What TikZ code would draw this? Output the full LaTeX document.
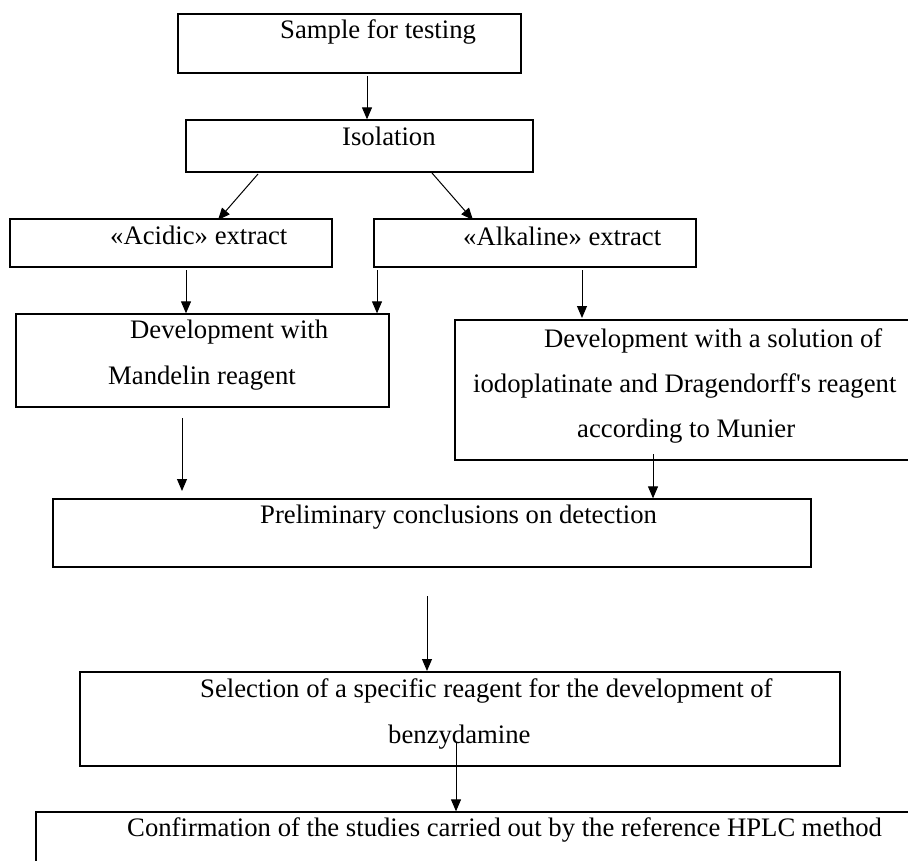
\documentclass[tikz,border=0pt]{standalone}
\usepackage{fontspec}
\setmainfont{Liberation Serif}[Ligatures=TeXOff]
\usetikzlibrary{arrows.meta}
\begin{document}
\begin{tikzpicture}[x=1pt,y=-1pt,
  boxline/.style={draw=black,line width=1.3pt},
  arr/.style={draw=black,line width=1pt,-{Triangle[length=12pt,width=10pt]}},
  txt/.style={anchor=base west,inner sep=0pt,font=\fontsize{26.7}{32}\selectfont}]
\clip (0,0) rectangle (908,860);
\fill[white] (0,0) rectangle (908,860);
% boxes
\node[boxline,inner sep=0pt,minimum width=343pt,minimum height=59pt] (sample) at (349.5,43.5) {};
\node[boxline,inner sep=0pt,minimum width=347pt,minimum height=52pt] (iso) at (359.5,146) {};
\node[boxline,inner sep=0pt,minimum width=322pt,minimum height=48pt] (acid) at (171,243) {};
\node[boxline,inner sep=0pt,minimum width=322pt,minimum height=48pt] (alk) at (535,243) {};
\node[boxline,inner sep=0pt,minimum width=373pt,minimum height=93pt] (mand) at (202.5,360.5) {};
\node[boxline,inner sep=0pt,minimum width=465pt,minimum height=140pt] (drag) at (687.5,390) {};
\node[boxline,inner sep=0pt,minimum width=758pt,minimum height=68pt] (prelim) at (432,533) {};
\node[boxline,inner sep=0pt,minimum width=760pt,minimum height=94pt] (sel) at (460,719) {};
\node[boxline,inner sep=0pt,minimum width=884pt,minimum height=68pt] (conf) at (478,846) {};
% texts
\node[txt] (tsample) at (280,38) {Sample for testing};
\node[txt] (tiso) at (342,145) {Isolation};
\node[txt] (tacid) at (110,244) {«Acidic» extract};
\node[txt] (talk) at (463,245) {«Alkaline» extract};
\node[txt] (tmand1) at (130,338) {Development with};
\node[txt] (tmand2) at (108,384) {Mandelin reagent};
\node[txt] (tdrag1) at (544,347) {Development with a solution of};
\node[txt] (tdrag2) at (473,392) {iodoplatinate and Dragendorff's reagent};
\node[txt] (tdrag3) at (577,437) {according to Munier};
\node[txt] (tprelim) at (260,523) {Preliminary conclusions on detection};
\node[txt] (tsel1) at (200,697) {Selection of a specific reagent for the development of};
\node[txt] (tsel2) at (388,743) {benzydamine};
\node[txt] (tconf) at (127,836) {Confirmation of the studies carried out by the reference HPLC method};
% connector end points
\coordinate (s1) at (367,76);
\coordinate (s2) at (258,174);
\coordinate (e2) at (218,220);
\coordinate (s3) at (432,173);
\coordinate (e3) at (473,220);
\coordinate (s4) at (186,270);
\coordinate (s5) at (377,270);
\coordinate (s6) at (582,270);
\coordinate (e6) at (582,318);
\coordinate (s7) at (182,418);
\coordinate (e7) at (182,491);
\coordinate (s8) at (653,454);
\coordinate (s9) at (427,596);
\coordinate (e9) at (427,671);
\coordinate (s10) at (456,743);
% connectors
\draw[arr] (s1) -- (s1 |- iso.north);
\draw[arr] (s2) -- (e2);
\draw[arr] (s3) -- (e3);
\draw[arr] (s4) -- (s4 |- mand.north);
\draw[arr] (s5) -- (s5 |- mand.north);
\draw[arr] (s6) -- (e6);
\draw[arr] (s7) -- (e7);
\draw[arr] (s8) -- (s8 |- prelim.north);
\draw[arr] (s9) -- (e9);
\draw[arr] (s10) -- (s10 |- conf.north);
\end{tikzpicture}
\end{document}
